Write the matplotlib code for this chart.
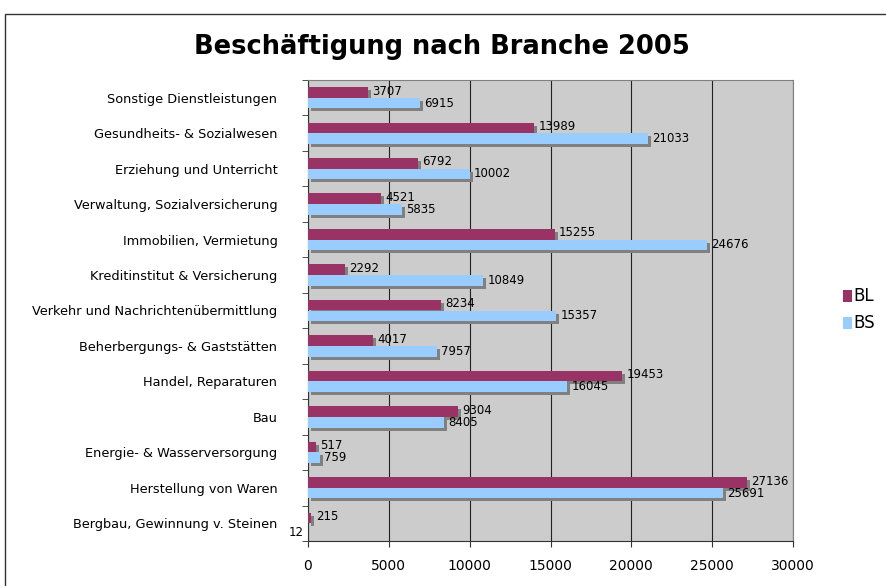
import matplotlib
matplotlib.use("Agg")
import matplotlib.pyplot as plt
from matplotlib.transforms import offset_copy
from matplotlib.patches import Rectangle
import numpy as np

plt.rcParams['font.family'] = ['DejaVu Sans']

# Branchen von unten nach oben
branchen = ["Bergbau, Gewinnung v. Steinen", "Herstellung von Waren", "Energie- & Wasserversorgung",
            "Bau", "Handel, Reparaturen", "Beherbergungs- & Gaststätten",
            "Verkehr und Nachrichtenübermittlung", "Kreditinstitut & Versicherung",
            "Immobilien, Vermietung", "Verwaltung, Sozialversicherung",
            "Erziehung und Unterricht", "Gesundheits- & Sozialwesen", "Sonstige Dienstleistungen"]
bl = [215, 27136, 517, 9304, 19453, 4017, 8234, 2292, 15255, 4521, 6792, 13989, 3707]
bs = [12, 25691, 759, 8405, 16045, 7957, 15357, 10849, 24676, 5835, 10002, 21033, 6915]
serien = ["BL", "BS"]
farben = ["#993366", "#99ccff"]

fig = plt.figure(figsize=(8.87, 5.86), dpi=100)
ax = fig.add_axes([308/887, 1 - 541/586, 485/887, 461/586])
ax.set_facecolor("#cccccc")

y = np.arange(len(branchen))
h = 0.3
shadow = offset_copy(ax.transData, fig=fig, x=3, y=-3, units='dots')

for vals, off, col in [(bl, h/2, farben[0]), (bs, -h/2, farben[1])]:
    sh = ax.barh(y + off, vals, height=h, color="#808080", zorder=2)
    for p in sh:
        p.set_transform(shadow)
    ax.barh(y + off, vals, height=h, color=col, zorder=3)

# Werte beschriften
for i in range(len(branchen)):
    ax.annotate(str(bl[i]), (bl[i], y[i] + h/2), xytext=(3, 1), textcoords='offset points',
                ha='left', va='center', fontsize=8.5, zorder=4)
    if bs[i] < 100:
        ax.annotate(str(bs[i]), (0, y[i] - h/2), xytext=(-3, -3), textcoords='offset points',
                    ha='right', va='center', fontsize=8.5, zorder=4, annotation_clip=False)
    else:
        ax.annotate(str(bs[i]), (bs[i], y[i] - h/2), xytext=(3, 0), textcoords='offset points',
                    ha='left', va='center', fontsize=8.5, zorder=4)

ax.set_xlim(0, 30000)
ax.set_ylim(-0.5, len(branchen) - 0.5)
ax.set_xticks(range(0, 30001, 5000))
ax.xaxis.grid(True, color="#222222", linewidth=0.8, zorder=1)
ax.set_axisbelow(True)
ax.set_yticks(y)
ax.set_yticklabels(branchen, fontsize=9.3)
ax.set_yticks(np.arange(-0.5, len(branchen), 1), minor=True)
ax.tick_params(axis='y', which='major', length=0, pad=22)
ax.tick_params(axis='y', which='minor', length=4, color="#333333")
ax.tick_params(axis='x', length=4, labelsize=10, pad=9, color="#333333")
for s in ax.spines.values():
    s.set_color("#808080")
ax.spines['left'].set_color("#333333")
ax.spines['bottom'].set_color("#333333")

fig.text(442/887, 1 - 47/586, "Beschäftigung nach Branche 2005", ha='center', va='center',
         fontsize=18.5, fontweight='bold')

# Rahmen des Diagramms
fig.patches.append(Rectangle((5/887, -0.1), 1.2, 1 - 14/586 + 0.1, transform=fig.transFigure,
                             fill=False, edgecolor="#333333", linewidth=1))

# Legende (rechts abgeschnitten)
for k, (name, col) in enumerate(zip(serien, farben)):
    yy = 1 - (296 + 27*k)/586
    fig.patches.append(Rectangle((843/887, yy - 6/586), 9/887, 12/586, transform=fig.transFigure,
                                 facecolor=col, edgecolor='none'))
    fig.text(853/887, yy, name, ha='left', va='center', fontsize=12)

fig.savefig("out.png", dpi=100)
